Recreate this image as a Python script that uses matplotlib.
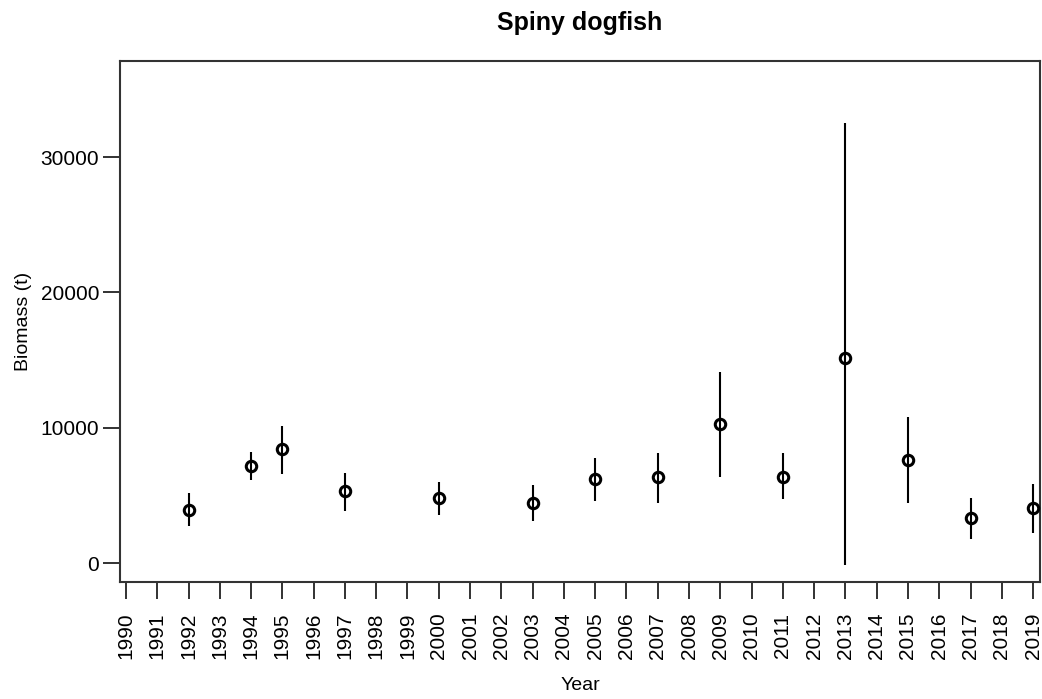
import matplotlib
matplotlib.use('Agg')
import matplotlib.pyplot as plt

years = [1992, 1994, 1995, 1997, 2000, 2003, 2005, 2007, 2009, 2011, 2013, 2015, 2017, 2019]
biomass = [3900, 7170, 8430, 5320, 4800, 4430, 6210, 6360, 10270, 6360, 15150, 7610, 3330, 4060]
upper = [5170, 8200, 10130, 6650, 5990, 5760, 7760, 8130, 14120, 8130, 32520, 10790, 4800, 5840]
lower = [2730, 6130, 6580, 3840, 3550, 3100, 4580, 4430, 6360, 4730, -150, 4430, 1770, 2220]

tick_years = list(range(1990, 2020))
y_ticks = [0, 10000, 20000, 30000]

plt.rcParams['font.family'] = ['Liberation Sans', 'DejaVu Sans']

fig = plt.figure(figsize=(10.42, 6.99), dpi=100)
ax = fig.add_axes([120 / 1042, 1 - 582 / 699, 920 / 1042, 521 / 699])

ax.vlines(years, lower, upper, color='black', linewidth=1.5, zorder=2)
ax.plot(years, biomass, linestyle='none', marker='o', markersize=7.5,
        markerfacecolor='none', markeredgecolor='black', markeredgewidth=2.2, zorder=3)

ax.set_xlim(1989.81, 2019.22)
ax.set_ylim(-1400, 37100)
ax.set_xticks(tick_years)
ax.set_xticklabels([str(y) for y in tick_years], rotation=90, fontsize=15)
ax.set_yticks(y_ticks)
ax.set_yticklabels([str(v) for v in y_ticks], fontsize=15)
ax.tick_params(axis='both', direction='out', length=12, width=1.3, color='#222222')
ax.tick_params(axis='x', pad=10)
ax.tick_params(axis='y', pad=3)

for s in ax.spines.values():
    s.set_linewidth(1.5)
    s.set_color('#333333')

ax.set_title('Spiny dogfish', fontsize=18, fontweight='bold', pad=22)
ax.set_xlabel('Year', fontsize=14, labelpad=13)
ax.set_ylabel('Biomass (t)', fontsize=14, labelpad=6)

fig.savefig('out.png', dpi=100)
